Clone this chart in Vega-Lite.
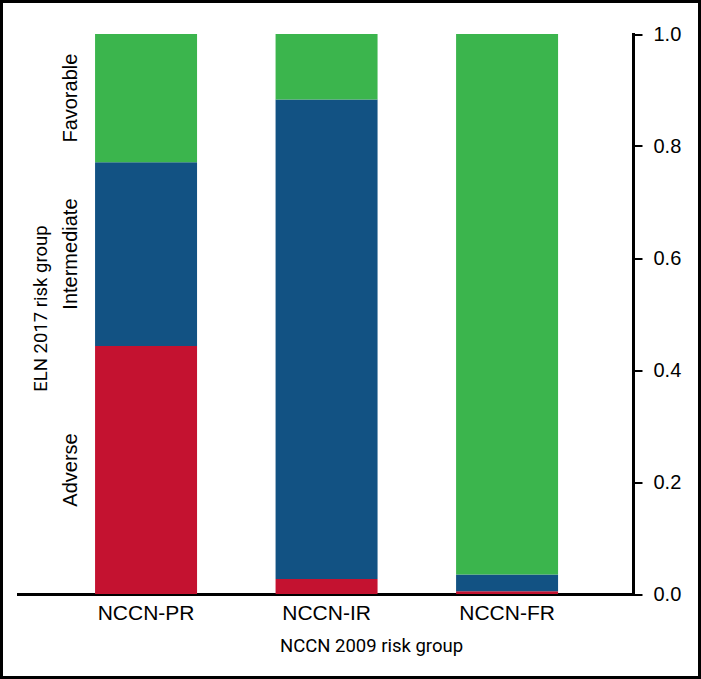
{
  "$schema": "https://vega.github.io/schema/vega-lite/v6.json",
  "width": 698,
  "height": 676,
  "autosize": {"type": "none"},
  "padding": 1.5,
  "background": "white",
  "config": {
    "view": {"stroke": "black", "strokeWidth": 3},
    "font": "Liberation Sans"
  },
  "data": {
    "values": [
      {"group": "NCCN-PR", "category": "Adverse", "value": 0.443},
      {"group": "NCCN-PR", "category": "Intermediate", "value": 0.328},
      {"group": "NCCN-PR", "category": "Favorable", "value": 0.229},
      {"group": "NCCN-IR", "category": "Adverse", "value": 0.027},
      {"group": "NCCN-IR", "category": "Intermediate", "value": 0.856},
      {"group": "NCCN-IR", "category": "Favorable", "value": 0.117},
      {"group": "NCCN-FR", "category": "Adverse", "value": 0.005},
      {"group": "NCCN-FR", "category": "Intermediate", "value": 0.030},
      {"group": "NCCN-FR", "category": "Favorable", "value": 0.965}
    ]
  },
  "transform": [
    {"calculate": "indexof(['Adverse','Intermediate','Favorable'], datum.category)", "as": "k"}
  ],
  "layer": [
    {
      "mark": {"type": "bar"},
      "encoding": {
        "x": {
          "field": "group",
          "type": "nominal",
          "sort": ["NCCN-PR", "NCCN-IR", "NCCN-FR"],
          "scale": {"range": [16.5, 631.5], "paddingInner": 0.435, "paddingOuter": 0.421, "align": 0.507},
          "axis": {
            "orient": "bottom",
            "offset": -83.5,
            "domain": true,
            "domainColor": "black",
            "domainWidth": 3,
            "domainCap": "square",
            "ticks": false,
            "tickSize": 0,
            "grid": false,
            "labelAngle": 0,
            "labelFont": "Liberation Sans",
            "labelFontSize": 21,
            "labelColor": "black",
            "labelBaseline": "alphabetic",
            "labelPadding": 25,
            "title": "NCCN 2009 risk group",
            "titleFont": "Roboto",
            "titleFontSize": 18.5,
            "titleFontWeight": "normal",
            "titleColor": "black",
            "titleX": 369.5,
            "titleY": 57,
            "titleBaseline": "alphabetic",
            "titleAlign": "center"
          }
        },
        "y": {
          "field": "value",
          "type": "quantitative",
          "stack": "zero",
          "scale": {"domain": [0, 1], "range": [592.5, 32.5], "nice": false, "zero": true},
          "axis": {
            "orient": "right",
            "offset": -66.5,
            "values": [0, 0.2, 0.4, 0.6, 0.8, 1],
            "format": ".1f",
            "grid": false,
            "domainColor": "black",
            "domainWidth": 3,
            "domainCap": "square",
            "tickColor": "black",
            "tickWidth": 2,
            "tickSize": 9,
            "labelFont": "Liberation Sans",
            "labelFontSize": 20,
            "labelColor": "black",
            "labelPadding": 11,
            "title": null
          }
        },
        "color": {
          "field": "category",
          "type": "nominal",
          "scale": {"domain": ["Adverse", "Intermediate", "Favorable"], "range": ["#c41230", "#125283", "#3bb54d"]},
          "legend": null
        },
        "order": {"field": "k", "type": "quantitative", "sort": "ascending"}
      }
    },
    {
      "transform": [
        {"filter": "datum.group === 'NCCN-PR'"},
        {"stack": "value", "groupby": ["group"], "sort": [{"field": "k", "order": "ascending"}], "as": ["s0", "s1"]},
        {"calculate": "(datum.s0 + datum.s1) / 2", "as": "mid"}
      ],
      "mark": {"type": "text", "angle": 270, "dy": -75, "fontSize": 20, "font": "Liberation Sans", "align": "center", "baseline": "middle", "color": "black"},
      "encoding": {
        "x": {"field": "group", "type": "nominal", "sort": ["NCCN-PR", "NCCN-IR", "NCCN-FR"]},
        "y": {
          "field": "mid",
          "type": "quantitative",
          "axis": {
            "orient": "left",
            "domain": false,
            "ticks": false,
            "labels": false,
            "grid": false,
            "title": "ELN 2017 risk group",
            "titleFont": "Roboto",
            "titleFontSize": 18.5,
            "titleFontWeight": "normal",
            "titleColor": "black",
            "titleAngle": 270,
            "titleX": 39,
            "titleY": 306.5,
            "titleAlign": "center",
            "titleBaseline": "middle"
          }
        },
        "text": {"field": "category", "type": "nominal"}
      }
    }
  ],
  "resolve": {"axis": {"y": "independent"}}
}
